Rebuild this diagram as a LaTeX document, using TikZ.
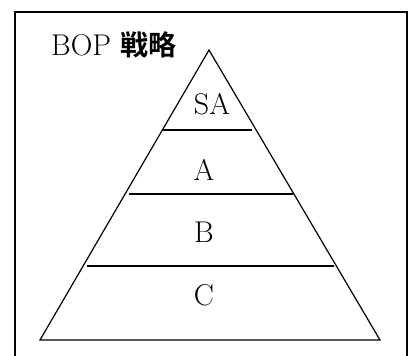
\documentclass[tikz,border=0pt]{standalone}
\usepackage{fontspec}
\newfontfamily\cjk{Noto Sans CJK JP}[BoldFont={* Bold}]
\begin{document}
\begin{tikzpicture}[x=1pt,y=-1pt,
  frameline/.style={line width=1.4pt},
  pyrline/.style={line width=1.2pt},
  lvl/.style={font=\fontsize{30}{31}\selectfont, inner sep=0pt, anchor=center}]
\useasboundingbox (0,0) rectangle (408,356);
\clip (0,0) rectangle (408,356);
\draw[frameline] (15,380) -- (15,12) -- (407,12) -- (407,380);
% triangle
\coordinate (top) at (209,50);
\coordinate (bl) at (40,340);
\coordinate (br) at (380,340);
\draw[pyrline, line join=miter] (top) -- (bl) -- (br) -- cycle;
% separators
\coordinate (l1a) at (163,130);
\coordinate (l1b) at (252,130);
\coordinate (l2a) at (129,194);
\coordinate (l2b) at (293,194);
\coordinate (l3a) at (87,266);
\coordinate (l3b) at (334,266);
\draw[pyrline] (l1a) -- (l1b);
\draw[pyrline] (l2a) -- (l2b);
\draw[pyrline] (l3a) -- (l3b);
% labels
\node[lvl] (sa) at (212,104) {SA};
\node[lvl] (a) at (204,170) {A};
\node[lvl] (b) at (204,232) {B};
\node[lvl] (c) at (204,295) {C};
\node[anchor=base west, inner sep=0pt] (title) at (51,56)
  {\fontsize{30}{31}\selectfont BOP {\cjk\bfseries\fontsize{28}{30}\selectfont 戦略}};
\end{tikzpicture}
\end{document}
